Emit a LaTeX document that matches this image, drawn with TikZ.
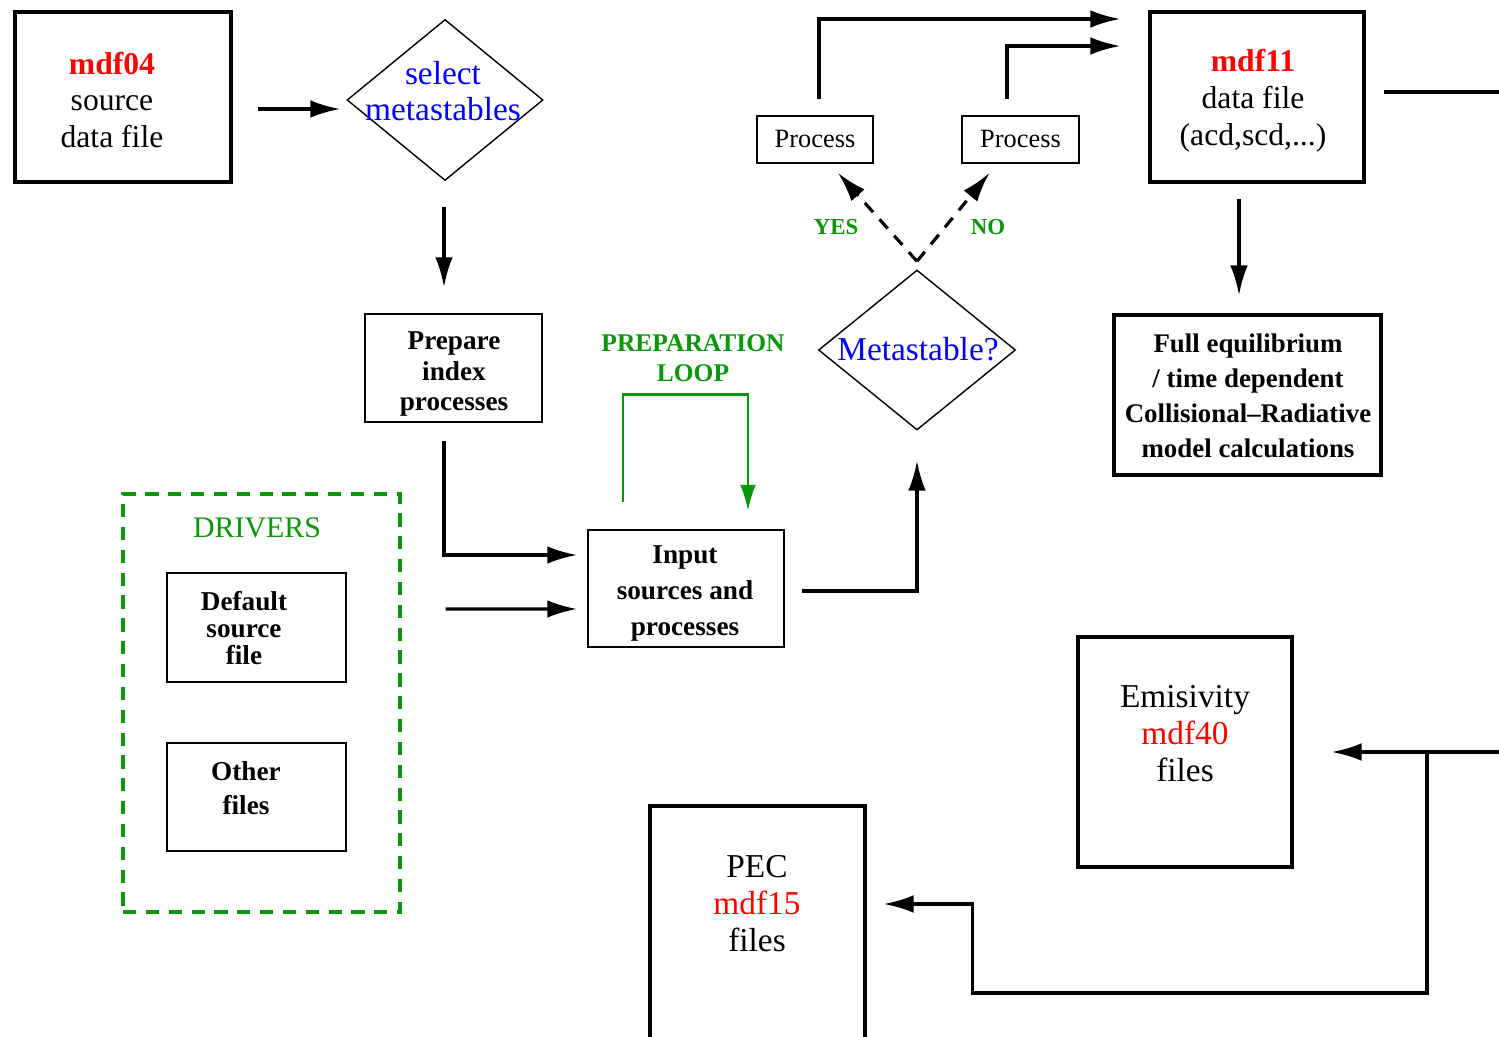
\documentclass[tikz,border=0pt]{standalone}
\usepackage{fontspec}
\setmainfont{Liberation Serif}
\usetikzlibrary{shapes.geometric,arrows.meta,calc}
\definecolor{gr}{RGB}{10,150,10}
\definecolor{rd}{RGB}{255,0,0}
\definecolor{bl}{RGB}{0,0,255}
\tikzset{
  bx/.style={draw, line width=1.9pt, inner sep=0pt},
  tb/.style={draw, line width=1.0pt, inner sep=0pt},
  dia/.style={draw, diamond, line width=0.8pt, inner sep=0pt},
  arr/.style={line width=1.8pt, -{Latex[length=17pt,width=10pt]}},
  dsh/.style={arr, dash pattern=on 7pt off 5.5pt},
  garr/.style={draw=gr, line width=1.7pt, -{Latex[length=15pt,width=9pt,fill=gr]}},
  txt/.style={align=center, inner sep=0pt},
  big/.style={font=\fontsize{18}{21}\selectfont},
}
\begin{document}
\begin{tikzpicture}[x=0.02cm,y=-0.02cm]
\clip (0,0) rectangle (1499,1037);
\fill[white] (0,0) rectangle (1499,1037);

% boxes
\node[bx, minimum width=216*0.02cm, minimum height=170*0.02cm] (m04) at (123,97) {};
\node[txt, big] (m04t) at (112,100) {{\bfseries\color{rd}mdf04}\\source\\data file};
\node[dia, minimum width=196*0.02cm, minimum height=161*0.02cm] (sel) at (445,100) {};
\node[txt, text=bl, font=\fontsize{19}{20.5}\selectfont] (selt) at (443,91) {select\\metastables};

\node[tb, minimum width=177*0.02cm, minimum height=108*0.02cm] (prep) at (453.5,368) {};
\node[txt, font=\bfseries\fontsize{15.5}{17.5}\selectfont] (prept) at (454,374) {Prepare\\index\\processes};

\node[tb, minimum width=196*0.02cm, minimum height=117*0.02cm] (inp) at (686,588.5) {};
\node[txt, font=\bfseries\fontsize{15.5}{20.5}\selectfont] (inpt) at (685,593) {Input\\sources and\\processes};

\node[dia, minimum width=197*0.02cm, minimum height=160*0.02cm] (meta) at (917,350) {};
\node[txt, text=bl, font=\fontsize{19}{21}\selectfont] (metat) at (918,349) {Metastable?};

\node[tb, minimum width=116*0.02cm, minimum height=47*0.02cm, font=\fontsize{15}{17}\selectfont] (p1) at (815,139.5) {Process};
\node[tb, minimum width=117*0.02cm, minimum height=47*0.02cm, font=\fontsize{15}{17}\selectfont] (p2) at (1020.5,139.5) {Process};

\node[bx, minimum width=214*0.02cm, minimum height=170*0.02cm] (m11) at (1257,97) {};
\node[txt, big] (m11t) at (1253,101) {{\bfseries\color{rd}mdf11}\\data file\\(acd,scd,...)};

\node[bx, minimum width=267*0.02cm, minimum height=160*0.02cm] (full) at (1247.5,395) {};
\node[txt, font=\bfseries\fontsize{15.3}{20}\selectfont] (fullt) at (1248,396) {Full equilibrium\\/ time dependent\\Collisional–Radiative\\model calculations};

\node[draw=gr, line width=1.9pt, dash pattern=on 7.5pt off 5.5pt, minimum width=277*0.02cm, minimum height=418*0.02cm, inner sep=0pt] (drv) at (261.5,703) {};
\node[txt, text=gr, font=\fontsize{17}{19}\selectfont] (drvt) at (257,528) {DRIVERS};
\node[tb, minimum width=179*0.02cm, minimum height=109*0.02cm] (def) at (256.5,627.5) {};
\node[txt, font=\bfseries\fontsize{15.5}{15.5}\selectfont] (deft) at (244,628) {Default\\source\\file};
\node[tb, minimum width=179*0.02cm, minimum height=108*0.02cm] (oth) at (256.5,797) {};
\node[txt, font=\bfseries\fontsize{15.5}{19}\selectfont] (otht) at (246,788) {Other\\files};

\node[bx, minimum width=214*0.02cm, minimum height=230*0.02cm] (emis) at (1185,752) {};
\node[txt, font=\fontsize{19}{21}\selectfont] (emist) at (1185,734) {Emisivity\\{\color{rd}mdf40}\\files};

\node[bx, minimum width=215*0.02cm, minimum height=245*0.02cm] (pec) at (757.5,928.5) {};
\node[txt, font=\fontsize{19}{21}\selectfont] (pect) at (757,904) {PEC\\{\color{rd}mdf15}\\files};

% labels
\node[txt, text=gr, font=\bfseries\fontsize{14.5}{17}\selectfont] (loopt) at (693,358) {PREPARATION\\LOOP};
\node[txt, text=gr, font=\bfseries\fontsize{13}{15}\selectfont] (yes) at (836,227) {YES};
\node[txt, text=gr, font=\bfseries\fontsize{13}{15}\selectfont] (no) at (988,227) {NO};

% connectors
\draw[arr] ($(m04.east)+(25,12)$) -- ($(sel.west)+(-6,9)$);
\draw[arr] ($(sel.south)+(-1,26)$) -- ($(prep.north)+(-9.5,-26)$);
\draw[arr] ($(prep.south)+(-9.5,18)$) |- ($(inp.west)+(-10,-33.5)$);
\draw[arr] ($(drv.east)+(44,-94)$) -- ($(inp.west)+(-10,20.5)$);
\draw[arr] ($(inp.east)+(17,2.5)$) -| ($(meta.south)+(0,30)$);

\coordinate (vtx) at ($(meta.north)+(0,-8)$);
\draw[dsh] (vtx) -- ($(p1.south)+(23,9)$);
\draw[dsh] (vtx) -- ($(p2.south)+(-31,9)$);

\draw[arr] ($(p1.north)+(4,-16)$) |- ($(m11.west)+(-28,-78)$);
\draw[arr] ($(p2.north)+(-13.5,-16)$) |- ($(m11.west)+(-28,-51)$);

\draw[line width=1.8pt] ($(m11.east)+(18,-5)$) -- ($(m11.east)+(160,-5)$);
\draw[arr] ($(m11.south)+(-18,15)$) -- ($(full.north)+(-8.5,-18)$);

\coordinate (redge) at (1510,752);
\coordinate (br) at (1427,752);
\draw[arr] (redge) -- ($(emis.east)+(38,0)$);
\draw[arr] (br) |- ($(pec.east)+(106,64.5)$) |- ($(pec.east)+(17,-24.5)$);

\draw[garr] ($(inp.north)+(-63,-27)$) |- ($(inp.north)+(0,-135)$) -| ($(inp.north)+(62,-18)$);
\end{tikzpicture}
\end{document}
